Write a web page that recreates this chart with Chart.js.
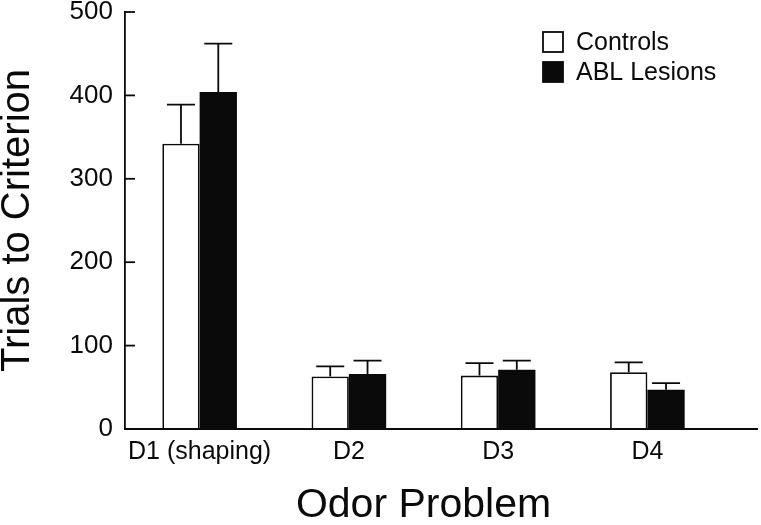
<!DOCTYPE html>
<html>
<head>
<meta charset="utf-8">
<script src="https://cdn.jsdelivr.net/npm/chart.js@4.4.1/dist/chart.umd.min.js"></script>
<style>
  body { margin: 0; background: #fff; }
</style>
</head>
<body>
<canvas id="odor-chart" width="761" height="525"></canvas>
<script>
const categories = ["D1 (shaping)", "D2", "D3", "D4"];
const controls_mean = [342, 63, 64, 68];
const controls_sem = [47, 12, 15, 12];
const lesions_mean = [404, 66, 71, 47];
const lesions_sem = [58, 16, 11, 8];
const y_ticks = [0, 100, 200, 300, 400, 500];

const ink = "#0a0a0a";
const font_family = "'Liberation Sans', Arial, Helvetica, sans-serif";

const sems = [controls_sem, lesions_sem];

// error bars (up only), inward y ticks, x axis line and legend
const extras = {
  id: "extras",
  afterDatasetsDraw(chart) {
    const ctx = chart.ctx;
    const y = chart.scales.y;
    const area = chart.chartArea;
    ctx.save();
    ctx.strokeStyle = ink;
    ctx.lineWidth = 1.8;

    chart.data.datasets.forEach((ds, d) => {
      const meta = chart.getDatasetMeta(d);
      meta.data.forEach((bar, i) => {
        const top = y.getPixelForValue(ds.data[i] + sems[d][i]);
        const cap = 14;
        ctx.beginPath();
        ctx.moveTo(bar.x, bar.y);
        ctx.lineTo(bar.x, top);
        ctx.moveTo(bar.x - cap, top);
        ctx.lineTo(bar.x + cap, top);
        ctx.stroke();
      });
    });

    // ticks pointing into the plot
    y_ticks.forEach(v => {
      const py = y.getPixelForValue(v);
      ctx.beginPath();
      ctx.moveTo(area.left, py);
      ctx.lineTo(area.left + 10, py);
      ctx.stroke();
    });

    // x axis runs on to the right edge
    ctx.beginPath();
    ctx.moveTo(area.left, area.bottom);
    ctx.lineTo(chart.width - 3, area.bottom);
    ctx.stroke();

    // legend
    const lx = area.right - 179;
    const ly = area.top + 20;
    chart.data.datasets.forEach((ds, d) => {
      const by = ly + d * 30;
      ctx.fillStyle = ds.backgroundColor;
      ctx.fillRect(lx, by, 20, 20);
      ctx.strokeRect(lx, by, 20, 20);
      ctx.fillStyle = ink;
      ctx.font = "25px " + font_family;
      ctx.textBaseline = "middle";
      ctx.textAlign = "left";
      ctx.fillText(ds.label, lx + 33, by + 11);
    });
    ctx.restore();
  }
};

const chart = new Chart(document.getElementById("odor-chart"), {
  type: "bar",
  data: {
    labels: categories,
    datasets: [
      {
        label: "Controls",
        data: controls_mean,
        backgroundColor: "#fff",
        borderColor: ink,
        borderWidth: 1.8,
      },
      {
        label: "ABL Lesions",
        data: lesions_mean,
        backgroundColor: ink,
        borderColor: ink,
        borderWidth: 0,
      },
    ],
  },
  options: {
    responsive: false,
    animation: false,
    categoryPercentage: 0.5,
    barPercentage: 1.0,
    layout: { padding: { top: 12, right: 39, bottom: 0, left: 0 } },
    plugins: {
      legend: { display: false },
      tooltip: { enabled: false },
    },
    scales: {
      x: {
        offset: true,
        grid: { display: false, drawTicks: false },
        border: { display: false },
        ticks: {
          color: ink,
          padding: 8,
          font: { family: font_family, size: 25 },
        },
        title: {
          display: true,
          text: "Odor Problem",
          color: ink,
          padding: 0,
          font: { family: font_family, size: 41, lineHeight: 0.92 },
        },
        afterFit(scale) {
          scale.height = 96;
          scale.paddingLeft = 0;
          scale.paddingRight = 0;
        },
      },
      y: {
        min: 0,
        max: 500,
        afterBuildTicks(scale) {
          scale.ticks = y_ticks.map(v => ({ value: v }));
        },
        grid: { display: false, drawTicks: false },
        border: { display: true, color: ink, width: 1.8 },
        ticks: {
          color: ink,
          padding: 12,
          font: { family: font_family, size: 26 },
        },
        title: {
          display: true,
          text: "Trials to Criterion",
          color: ink,
          padding: 0,
          font: { family: font_family, size: 40, lineHeight: 0.92 },
        },
        afterFit(scale) {
          scale.width = 125;
          scale.paddingTop = 0;
          scale.paddingBottom = 0;
        },
      },
    },
  },
  plugins: [extras],
});
</script>
</body>
</html>
